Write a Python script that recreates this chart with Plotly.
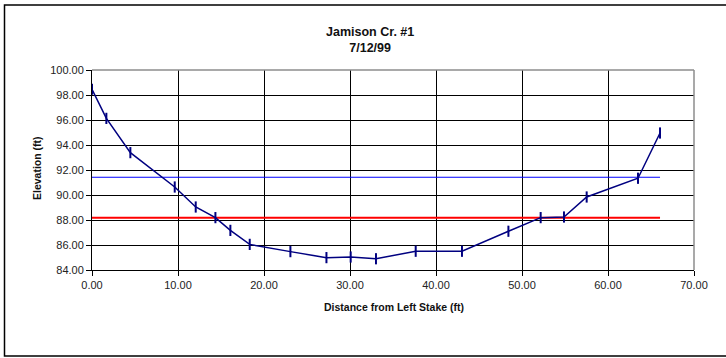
import plotly.graph_objects as go

title_lines = ["Jamison Cr. #1", "7/12/99"]
x_title = "Distance from Left Stake (ft)"
y_title = "Elevation (ft)"

distance = [0.0, 1.67, 4.46, 9.62, 12.06, 14.35, 16.09, 18.34, 23.07, 27.26,
            30.08, 33.02, 37.64, 43.02, 48.42, 52.17, 54.88, 57.52, 63.49, 66.05]
elevation = [98.46, 96.13, 93.39, 90.64, 89.04, 88.19, 87.17, 86.05, 85.47, 84.99,
             85.04, 84.90, 85.50, 85.50, 87.10, 88.19, 88.24, 89.84, 91.34, 94.96]

bankfull_x = [0.0, 66.05]
bankfull_y = [91.42, 91.42]
water_x = [0.0, 66.05]
water_y = [88.19, 88.19]

x_ticks = [0, 10, 20, 30, 40, 50, 60, 70]
y_ticks = [84, 86, 88, 90, 92, 94, 96, 98, 100]

fig = go.Figure()
fig.add_trace(go.Scatter(x=bankfull_x, y=bankfull_y, mode="lines",
                         line=dict(color="#0000FF", width=1), showlegend=False))
fig.add_trace(go.Scatter(x=water_x, y=water_y, mode="lines",
                         line=dict(color="#FF0000", width=2), showlegend=False))
fig.add_trace(go.Scatter(x=distance, y=elevation, mode="lines+markers",
                         line=dict(color="#000080", width=1.5),
                         marker=dict(symbol="line-ns", size=8,
                                     line=dict(color="#000080", width=2)),
                         showlegend=False))

W, H = 726, 358
L, R, T, B = 92, 32, 70, 88
pw, ph = W - L - R, H - T - B

def px(xpix):
    return (xpix - L) / pw

def py(ypix):
    return (H - B - ypix) / ph

fig.update_layout(
    width=W, height=H,
    margin=dict(l=L, r=R, t=T, b=B),
    paper_bgcolor="white", plot_bgcolor="white",
    font=dict(family="Liberation Sans, Arial, sans-serif", color="black", size=11),
    xaxis=dict(range=[0, 70], tickvals=x_ticks,
               ticktext=[f"{v:.2f}" for v in x_ticks],
               showgrid=True, gridcolor="black", gridwidth=1,
               showline=True, linecolor="black", linewidth=1,
               ticks="outside", ticklen=5, tickcolor="black",
               zeroline=False, tickfont=dict(size=11, color="#222")),
    yaxis=dict(range=[84, 100], tickvals=y_ticks,
               ticktext=[f"{v:.2f}" for v in y_ticks],
               showgrid=True, gridcolor="black", gridwidth=1,
               showline=True, linecolor="black", linewidth=1,
               ticks="outside", ticklen=5, tickcolor="black",
               zeroline=False, tickfont=dict(size=11, color="#222")),
)

# plot-area top/right border (grey)
fig.add_shape(type="line", xref="paper", yref="paper", x0=0, x1=1, y0=1, y1=1,
              line=dict(color="#8c8c8c", width=1.5))
fig.add_shape(type="line", xref="paper", yref="paper", x0=1, x1=1, y0=0, y1=1,
              line=dict(color="#8c8c8c", width=1.5))
# outer chart frame
fig.add_shape(type="rect", xref="paper", yref="paper",
              x0=px(4.5), x1=px(740), y0=py(356), y1=py(5),
              line=dict(color="black", width=1.5), layer="below")

fig.add_annotation(text="<b>" + title_lines[0] + "</b><br><b>" + title_lines[1] + "</b>",
                   xref="paper", yref="paper", x=px(370), y=py(40),
                   showarrow=False, font=dict(size=12.5, color="#111"),
                   xanchor="center", yanchor="middle")
fig.add_annotation(text="<b>" + x_title + "</b>", xref="paper", yref="paper",
                   x=px(394), y=py(307), showarrow=False,
                   font=dict(size=10.5, color="#111"), xanchor="center", yanchor="middle")
fig.add_annotation(text="<b>" + y_title + "</b>", xref="paper", yref="paper",
                   x=px(37), y=py(168), showarrow=False, textangle=-90,
                   font=dict(size=10.5, color="#111"), xanchor="center", yanchor="middle")

fig.write_html("out.html", config={"displayModeBar": False},
               post_script="document.body.style.margin='0';document.body.style.overflow='hidden';")
